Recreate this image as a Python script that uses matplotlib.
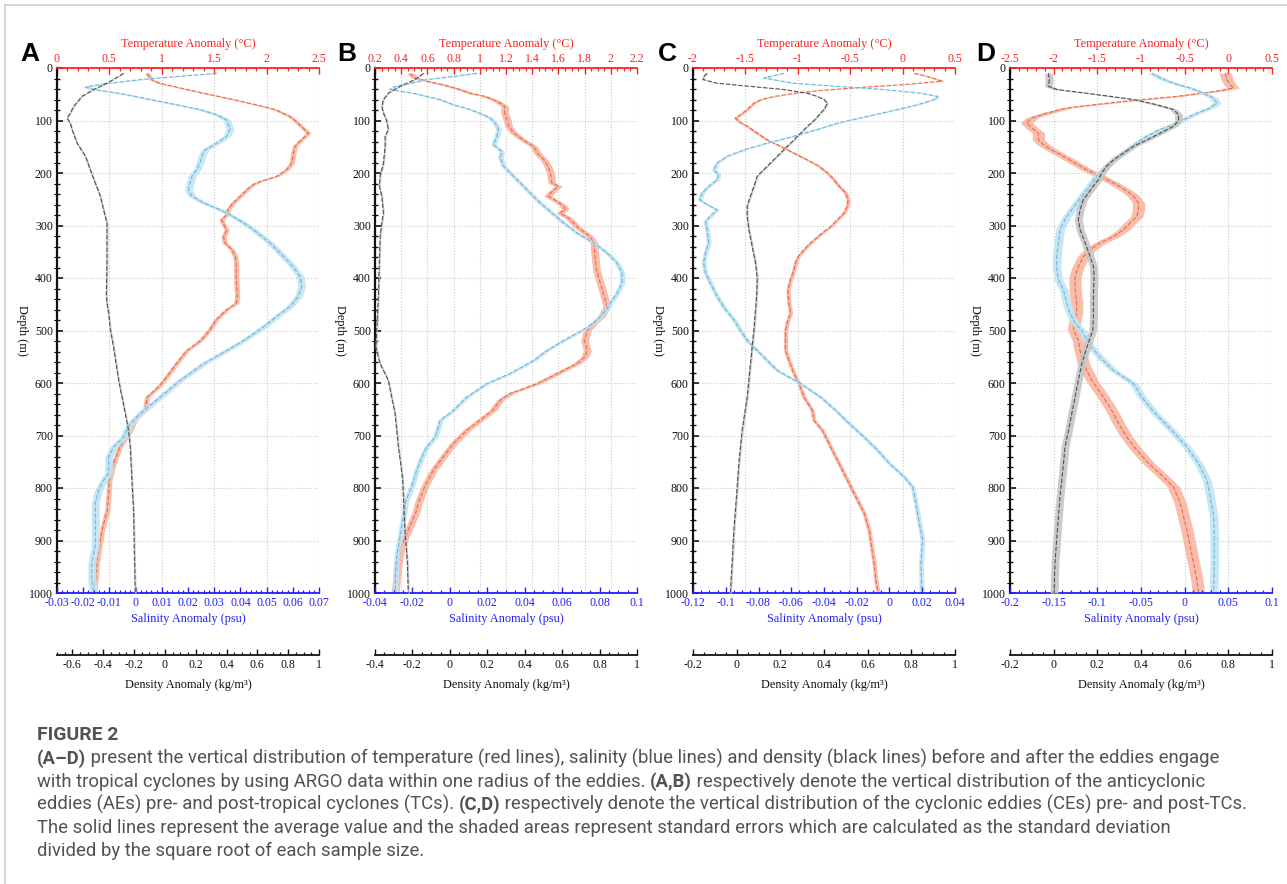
import matplotlib
matplotlib.use("Agg")
import matplotlib.pyplot as plt
from matplotlib.ticker import MultipleLocator, FuncFormatter
from matplotlib.lines import Line2D
import numpy as np

plt.rcParams["axes.unicode_minus"] = False
plt.rcParams["font.family"] = ["Liberation Serif", "DejaVu Serif"]

# ---------------------------------------------------------------- data
# (A) anticyclonic eddies, pre-TC
a_temp_depth = [10, 22, 29, 41, 48, 60, 70, 79, 92, 100, 111, 124, 137, 149, 168, 181, 194, 206, 216, 222,
                232, 244, 257, 270, 279, 289, 298, 308, 321, 333, 346, 359, 371, 403, 435, 448, 460, 479, 498,
                519, 538, 563, 595, 605, 627, 652, 668, 690, 722, 753, 785, 817, 842, 880, 918, 943, 975, 1000]
a_temp = [0.86, 0.90, 0.98, 1.24, 1.40, 1.68, 1.90, 2.08, 2.22, 2.27, 2.33, 2.40, 2.33, 2.27, 2.25, 2.24, 2.19,
          2.10, 1.94, 1.87, 1.81, 1.75, 1.68, 1.63, 1.62, 1.57, 1.59, 1.62, 1.59, 1.60, 1.67, 1.70, 1.71, 1.71,
          1.72, 1.71, 1.62, 1.52, 1.46, 1.37, 1.24, 1.14, 1.02, 0.98, 0.86, 0.84, 0.75, 0.70, 0.60, 0.54, 0.50,
          0.49, 0.48, 0.43, 0.40, 0.38, 0.37, 0.35]
a_sal_depth = [10, 16, 22, 30, 36, 41, 46, 51, 60, 70, 79, 89, 99, 117, 130, 143, 156, 168, 181, 194, 206, 219,
               232, 244, 257, 270, 283, 295, 308, 333, 359, 378, 397, 416, 435, 454, 473, 498, 519, 538, 563,
               595, 627, 658, 677, 703, 722, 741, 772, 785, 804, 829, 867, 911, 943, 975, 1000]
a_sal = [0.031, 0.016, 0.002, -0.012, -0.019, -0.016, -0.009, -0.003, 0.0056, 0.0157, 0.0246, 0.031, 0.0348,
         0.036, 0.0348, 0.031, 0.0265, 0.0253, 0.0246, 0.0234, 0.0215, 0.0208, 0.0202, 0.0215, 0.026, 0.0323,
         0.0373, 0.0412, 0.045, 0.0513, 0.0564, 0.060, 0.0628, 0.0634, 0.0621, 0.059, 0.0539, 0.0475, 0.0412,
         0.0348, 0.026, 0.017, 0.0094, 0.0018, -0.002, -0.0046, -0.0084, -0.0103, -0.0103, -0.0122, -0.0141,
         -0.0154, -0.0154, -0.0154, -0.0167, -0.0167, -0.016]
a_dens_depth = [10, 16, 29, 41, 54, 73, 86, 95, 105, 117, 143, 168, 194, 219, 244, 270, 295, 321, 371, 435,
                448, 467, 498, 532, 595, 658, 690, 722, 785, 848, 911, 1000]
a_dens = [-0.268, -0.30, -0.376, -0.462, -0.538, -0.592, -0.614, -0.635, -0.614, -0.603, -0.57, -0.516,
          -0.484, -0.452, -0.419, -0.398, -0.376, -0.376, -0.376, -0.38, -0.376, -0.365, -0.354, -0.333,
          -0.30, -0.257, -0.236, -0.225, -0.214, -0.203, -0.199, -0.192]

# (B) anticyclonic eddies, post-TC
b_temp_depth = [10, 19, 25, 32, 41, 48, 54, 63, 73, 86, 100, 111, 124, 137, 149, 162, 175, 187, 200, 219, 225,
                238, 244, 254, 263, 270, 276, 286, 302, 321, 333, 359, 384, 410, 435, 454, 473, 486, 500, 519,
                538, 551, 563, 582, 601, 620, 633, 652, 671, 690, 715, 741, 766, 797, 829, 848, 880, 911, 943,
                1000]
b_temp = [0.468, 0.506, 0.595, 0.722, 0.85, 0.926, 1.04, 1.13, 1.19, 1.19, 1.21, 1.22, 1.26, 1.33, 1.41, 1.44,
          1.49, 1.52, 1.54, 1.55, 1.60, 1.54, 1.52, 1.59, 1.64, 1.65, 1.61, 1.68, 1.74, 1.84, 1.87, 1.88, 1.89,
          1.92, 1.95, 1.97, 1.93, 1.87, 1.82, 1.80, 1.82, 1.80, 1.74, 1.59, 1.44, 1.23, 1.155, 1.10, 1.00,
          0.90, 0.80, 0.72, 0.646, 0.58, 0.53, 0.51, 0.455, 0.40, 0.378, 0.353]
b_sal_depth = [10, 16, 22, 29, 36, 41, 48, 54, 60, 70, 79, 89, 95, 105, 117, 130, 146, 159, 171, 187, 200, 219,
               238, 257, 276, 295, 314, 333, 352, 371, 390, 410, 429, 448, 467, 486, 500, 519, 538, 557, 582,
               601, 627, 652, 671, 684, 703, 722, 741, 766, 798, 823, 854, 892, 930, 962, 1000]
b_sal = [0.0144, 0.0019, -0.0124, -0.0213, -0.030, -0.032, -0.0195, -0.0124, -0.0052, 0.0019, 0.0108, 0.018,
         0.0215, 0.0242, 0.026, 0.0251, 0.0233, 0.0278, 0.0269, 0.0287, 0.0322, 0.0376, 0.0429, 0.0483, 0.0545,
         0.0608, 0.0679, 0.0768, 0.084, 0.0893, 0.092, 0.092, 0.0893, 0.0857, 0.0822, 0.0768, 0.0705, 0.0608,
         0.0519, 0.0447, 0.0322, 0.0197, 0.009, 0.0019, -0.0052, -0.0061, -0.0079, -0.0124, -0.015, -0.0177,
         -0.0204, -0.0234, -0.0248, -0.0266, -0.0284, -0.029, -0.0293]
b_dens_depth = [10, 22, 35, 48, 60, 73, 86, 100, 117, 130, 149, 181, 206, 225, 244, 276, 295, 321, 371, 435,
                500, 532, 563, 595, 627, 658, 690, 722, 753, 785, 817, 880, 943, 1000]
b_dens = [-0.141, -0.186, -0.266, -0.329, -0.355, -0.364, -0.355, -0.338, -0.329, -0.346, -0.346, -0.355,
          -0.373, -0.377, -0.364, -0.355, -0.364, -0.373, -0.377, -0.382, -0.391, -0.395, -0.373, -0.329,
          -0.311, -0.293, -0.284, -0.275, -0.263, -0.252, -0.248, -0.24, -0.227, -0.222]

# (C) cyclonic eddies, pre-TC
c_temp_depth = [10, 16, 25, 31, 37, 43, 48, 54, 60, 67, 79, 89, 95, 102, 111, 124, 137, 149, 162, 175, 187,
                200, 213, 225, 238, 251, 263, 276, 289, 302, 314, 333, 346, 359, 371, 384, 403, 422, 448, 467,
                479, 500, 538, 557, 582, 601, 627, 652, 671, 690, 722, 753, 785, 817, 848, 880, 911, 943, 975,
                1000]
c_temp = [0.111, 0.238, 0.38, 0.05, -0.40, -0.80, -1.02, -1.22, -1.35, -1.42, -1.483, -1.547, -1.595, -1.563,
          -1.483, -1.388, -1.292, -1.165, -1.037, -0.909, -0.798, -0.718, -0.654, -0.607, -0.543, -0.52, -0.527,
          -0.559, -0.622, -0.686, -0.766, -0.878, -0.941, -0.996, -1.021, -1.037, -1.069, -1.094, -1.085,
          -1.069, -1.094, -1.117, -1.117, -1.085, -1.037, -0.989, -0.941, -0.862, -0.846, -0.766, -0.686,
          -0.607, -0.527, -0.447, -0.367, -0.32, -0.297, -0.272, -0.256, -0.233]
c_sal_depth = [10, 19, 29, 35, 41, 48, 54, 60, 70, 79, 92, 105, 117, 130, 143, 156, 168, 181, 194, 203, 213,
               225, 238, 251, 260, 270, 279, 292, 308, 333, 352, 371, 390, 410, 435, 460, 479, 500, 519, 538,
               557, 576, 601, 627, 652, 677, 703, 728, 753, 779, 798, 829, 867, 899, 943, 1000]
c_sal = [-0.0645, -0.0767, -0.0584, -0.0318, -0.0033, 0.0192, 0.0294, 0.0273, 0.0171, 0.0049, -0.0135,
         -0.0318, -0.0441, -0.0584, -0.0747, -0.089, -0.0992, -0.1053, -0.1073, -0.1043, -0.1053, -0.1104,
         -0.1145, -0.1159, -0.1114, -0.1053, -0.1084, -0.1124, -0.1114, -0.1104, -0.1124, -0.1135, -0.1124,
         -0.1094, -0.1053, -0.1002, -0.0951, -0.091, -0.0869, -0.0808, -0.0747, -0.0686, -0.0543, -0.042,
         -0.0329, -0.0247, -0.0155, -0.0073, -0.0002, 0.009, 0.0141, 0.0161, 0.0182, 0.0202, 0.0192, 0.0196]
c_dens_depth = [10, 16, 22, 29, 35, 41, 48, 54, 60, 67, 79, 89, 100, 111, 124, 137, 149, 168, 187, 206, 225,
                244, 263, 283, 308, 340, 371, 400, 435, 498, 563, 627, 690, 753, 817, 880, 943, 1000]
c_dens = [-0.136, -0.151, -0.154, -0.09, 0.063, 0.216, 0.324, 0.369, 0.40, 0.415, 0.40, 0.377, 0.354, 0.324,
          0.293, 0.262, 0.232, 0.186, 0.14, 0.094, 0.079, 0.063, 0.048, 0.048, 0.056, 0.071, 0.086, 0.094,
          0.091, 0.079, 0.063, 0.048, 0.025, 0.01, -0.001, -0.013, -0.021, -0.029]

# (D) cyclonic eddies, post-TC
d_temp_depth = [10, 22, 32, 38, 44, 54, 63, 70, 76, 86, 95, 105, 114, 124, 137, 146, 156, 168, 181, 194, 206,
                219, 232, 244, 257, 270, 283, 295, 308, 321, 333, 346, 359, 378, 397, 422, 448, 467, 479, 498,
                519, 538, 563, 595, 627, 652, 677, 703, 728, 753, 779, 798, 829, 854, 880, 911, 943, 975, 1000]
d_temp = [-0.035, -0.016, 0.022, 0.06, -0.131, -0.589, -1.163, -1.545, -1.85, -2.08, -2.252, -2.309, -2.252,
          -2.175, -2.175, -2.118, -2.022, -1.889, -1.755, -1.621, -1.468, -1.315, -1.182, -1.086, -1.029,
          -1.029, -1.048, -1.124, -1.201, -1.315, -1.468, -1.583, -1.659, -1.717, -1.755, -1.755, -1.736,
          -1.736, -1.755, -1.774, -1.717, -1.698, -1.659, -1.564, -1.43, -1.335, -1.258, -1.163, -1.048,
          -0.914, -0.742, -0.628, -0.551, -0.513, -0.475, -0.437, -0.398, -0.36, -0.341]
d_sal_depth = [10, 19, 29, 38, 48, 57, 67, 76, 86, 95, 105, 117, 130, 143, 156, 168, 181, 194, 206, 219, 232,
               244, 257, 270, 283, 295, 308, 333, 359, 384, 403, 422, 448, 467, 486, 500, 525, 551, 576, 601,
               627, 658, 690, 722, 753, 785, 817, 854, 892, 943, 1000]
d_sal = [-0.0376, -0.028, -0.0128, 0.0063, 0.0216, 0.0331, 0.0369, 0.0293, 0.014, 0.0025, -0.0089, -0.028,
         -0.0433, -0.0548, -0.0663, -0.0758, -0.0854, -0.093, -0.1007, -0.1064, -0.1121, -0.1178, -0.1236,
         -0.1293, -0.135, -0.1389, -0.1427, -0.1446, -0.1465, -0.1465, -0.1446, -0.1389, -0.135, -0.1312,
         -0.1255, -0.1178, -0.1102, -0.0968, -0.0815, -0.0586, -0.0491, -0.0338, -0.0147, 0.0025, 0.0159,
         0.0254, 0.0293, 0.0331, 0.0339, 0.0339, 0.0331]
d_dens_depth = [10, 22, 35, 41, 48, 54, 60, 70, 79, 89, 100, 111, 124, 137, 149, 162, 175, 187, 200, 213, 225,
                238, 251, 270, 289, 308, 333, 359, 378, 397, 435, 473, 500, 532, 563, 595, 627, 658, 690, 722,
                753, 817, 880, 943, 1000]
d_dens = [-0.024, -0.02, -0.024, 0.014, 0.152, 0.259, 0.366, 0.473, 0.549, 0.572, 0.572, 0.549, 0.488, 0.427,
          0.366, 0.32, 0.274, 0.243, 0.22, 0.205, 0.182, 0.159, 0.136, 0.121, 0.113, 0.121, 0.144, 0.167,
          0.182, 0.185, 0.182, 0.182, 0.179, 0.152, 0.129, 0.113, 0.098, 0.083, 0.068, 0.052, 0.045, 0.029,
          0.017, 0.006, 0.002]

# standard errors (half-width of the shaded bands)
temp_err = [0.025, 0.03, 0.02, 0.07]
sal_err = [0.0015, 0.0015, 0.0015, 0.005]
dens_err = [0.006, 0.005, 0.005, 0.018]

panel_letters = ["A", "B", "C", "D"]
temp_range = [(0, 2.5), (0.2, 2.2), (-2, 0.5), (-2.5, 0.5)]
sal_range = [(-0.03, 0.07), (-0.04, 0.1), (-0.12, 0.04), (-0.2, 0.1)]
dens_range = [(-0.7, 1), (-0.4, 1), (-0.2, 1), (-0.2, 1)]
temp_step = [(0.5, 0.1), (0.2, 0.05), (0.5, 0.1), (0.5, 0.1)]
sal_step = [(0.01, 0.002), (0.02, 0.005), (0.02, 0.005), (0.05, 0.01)]
dens_step = [(0.2, 0.05)] * 4

caption_title = "FIGURE 2"
caption_lines = [
    [("(A\u2013D)", True), (" present the vertical distribution of temperature (red lines), salinity (blue lines) "
                            "and density (black lines) before and after the eddies engage", False)],
    [("with tropical cyclones by using ARGO data within one radius of the eddies. ", False), ("(A,B)", True),
     (" respectively denote the vertical distribution of the anticyclonic", False)],
    [("eddies (AEs) pre- and post-tropical cyclones (TCs). ", False), ("(C,D)", True),
     (" respectively denote the vertical distribution of the cyclonic eddies (CEs) pre- and post-TCs.", False)],
    [("The solid lines represent the average value and the shaded areas represent standard errors which are "
      "calculated as the standard deviation", False)],
    [("divided by the square root of each sample size.", False)],
]

# ---------------------------------------------------------------- style
W, H, DPI = 1287, 884, 100
PX = 72.0 / DPI
fig = plt.figure(figsize=(W / DPI, H / DPI), dpi=DPI, facecolor="white")

TEMP_LINE, TEMP_FILL = "#ec6a47", "#f8b7a2"
SAL_LINE, SAL_FILL = "#6db8db", "#c2e4f3"
DENS_LINE, DENS_FILL = "#505050", "#c6c6c6"
RED, BLUE, INK = "#ff2020", "#2020ff", "#111111"
GRID = "#c9c9c9"
TICK_FS, LABEL_FS = 8.6, 8.8
CAP_FONT = ["Roboto", "DejaVu Sans"]
CAP_COLOR = "#525252"

TOP, BOT = 68, 593
PANEL_LEFT = [57, 375, 693, 1010]
PANEL_W = 262
LETTER_X = [20, 337, 658, 976]


def fy(y):
    return 1 - y / H


def fx(x):
    return x / W


def num_fmt(v, _):
    v = round(v, 6)
    if abs(v) < 1e-9:
        return "0"
    return f"{v:g}"


def draw_band(ax, depth, val, err, line, fill):
    depth = np.asarray(depth, float)
    val = np.asarray(val, float)
    ax.fill_betweenx(depth, val - err, val + err, color=fill, lw=0, alpha=0.9)
    ax.plot(val, depth, color=line, lw=0.8, ls=(0, (4, 1.6)))


def style_x(axis_obj, major, minor):
    axis_obj.set_major_locator(MultipleLocator(major))
    axis_obj.set_minor_locator(MultipleLocator(minor))
    axis_obj.set_major_formatter(FuncFormatter(num_fmt))


for i in range(4):
    left = PANEL_LEFT[i]
    rect = [fx(left), fy(BOT), PANEL_W / W, (BOT - TOP) / H]
    ax_t = fig.add_axes(rect)                 # temperature (top), lowest layer
    ax_s = fig.add_axes(rect, sharey=ax_t)    # salinity (bottom)
    ax_d = fig.add_axes(rect, sharey=ax_t)    # density (detached bottom axis)
    for a, z in ((ax_t, 1), (ax_s, 2), (ax_d, 3)):
        a.set_zorder(z)
        a.patch.set_visible(False)
        for sp in a.spines.values():
            sp.set_visible(False)

    ax_t.set_ylim(1000, 0)

    # temperature axis on top
    ax_t.set_xlim(*temp_range[i])
    ax_t.xaxis.tick_top()
    style_x(ax_t.xaxis, *temp_step[i])
    ax_t.spines["top"].set_visible(True)
    ax_t.spines["top"].set_color(RED)
    ax_t.spines["top"].set_linewidth(1.3)
    ax_t.tick_params(axis="x", which="both", direction="in", colors=RED, labelsize=TICK_FS, pad=2.5)
    ax_t.tick_params(axis="x", which="major", length=4, width=1.0)
    ax_t.tick_params(axis="x", which="minor", length=2.5, width=0.9)
    ax_t.grid(axis="x", which="major", color=GRID, ls=":", lw=0.8)

    # depth axis on the left
    ax_t.spines["left"].set_visible(True)
    ax_t.spines["left"].set_color(INK)
    ax_t.spines["left"].set_linewidth(1.6)
    ax_t.yaxis.set_major_locator(MultipleLocator(100))
    ax_t.yaxis.set_minor_locator(MultipleLocator(20))
    ax_t.tick_params(axis="y", which="both", direction="in", colors=INK, labelsize=TICK_FS, pad=3)
    ax_t.tick_params(axis="y", which="major", length=4.5, width=1.2)
    ax_t.tick_params(axis="y", which="minor", length=2.5, width=1.0)
    for d in ax_t.get_yticks():
        if 0 < d <= 1000:
            ax_t.axhline(d, color=GRID, ls=":", lw=0.8, zorder=0.5)
    ax_t.axvline(temp_range[i][1], color=GRID, ls=":", lw=0.8)

    # salinity axis at the bottom
    ax_s.set_xlim(*sal_range[i])
    ax_s.xaxis.tick_bottom()
    style_x(ax_s.xaxis, *sal_step[i])
    ax_s.spines["bottom"].set_visible(True)
    ax_s.spines["bottom"].set_color(BLUE)
    ax_s.spines["bottom"].set_linewidth(1.3)
    ax_s.tick_params(axis="x", which="both", direction="in", colors=BLUE, labelsize=TICK_FS, pad=3)
    ax_s.tick_params(axis="x", which="major", length=4, width=1.0)
    ax_s.tick_params(axis="x", which="minor", length=2.5, width=0.9)
    ax_s.tick_params(axis="y", left=False, labelleft=False)

    # density axis below
    ax_d.set_xlim(*dens_range[i])
    ax_d.xaxis.tick_bottom()
    style_x(ax_d.xaxis, *dens_step[i])
    ax_d.spines["bottom"].set_visible(True)
    ax_d.spines["bottom"].set_position(("outward", 62 * PX))
    ax_d.spines["bottom"].set_color(INK)
    ax_d.spines["bottom"].set_linewidth(1.3)
    ax_d.tick_params(axis="x", which="both", direction="in", colors=INK, labelsize=TICK_FS, pad=3)
    ax_d.tick_params(axis="x", which="major", length=4, width=1.0)
    ax_d.tick_params(axis="x", which="minor", length=2.5, width=0.9)
    ax_d.tick_params(axis="y", left=False, labelleft=False)

    # curves
    temps = [a_temp, b_temp, c_temp, d_temp][i]
    temp_d = [a_temp_depth, b_temp_depth, c_temp_depth, d_temp_depth][i]
    sals = [a_sal, b_sal, c_sal, d_sal][i]
    sal_d = [a_sal_depth, b_sal_depth, c_sal_depth, d_sal_depth][i]
    dens = [a_dens, b_dens, c_dens, d_dens][i]
    dens_d = [a_dens_depth, b_dens_depth, c_dens_depth, d_dens_depth][i]
    draw_band(ax_t, temp_d, temps, temp_err[i], TEMP_LINE, TEMP_FILL)
    draw_band(ax_s, sal_d, sals, sal_err[i], SAL_LINE, SAL_FILL)
    draw_band(ax_d, dens_d, dens, dens_err[i], DENS_LINE, DENS_FILL)
    ax_t.set_ylim(1000, 0)

    # axis titles
    cx = fx(left + PANEL_W / 2)
    fig.text(cx, fy(44.5), "Temperature Anomaly (\u00b0C)", color=RED, fontsize=LABEL_FS,
             ha="center", va="center")
    fig.text(cx, fy(619), "Salinity Anomaly (psu)", color=BLUE, fontsize=LABEL_FS,
             ha="center", va="center")
    fig.text(cx, fy(685), "Density Anomaly (kg/m\u00b3)", color=INK, fontsize=LABEL_FS,
             ha="center", va="center")
    fig.text(fx(left - 35), fy((TOP + BOT) / 2), "Depth (m)", color=INK, fontsize=LABEL_FS,
             rotation=270, ha="center", va="center")
    fig.text(fx(LETTER_X[i]), fy(61), panel_letters[i], family=["Liberation Sans", "DejaVu Sans"],
             weight="bold", fontsize=19, color="black", ha="left", va="baseline")

# page frame
fig.add_artist(Line2D([fx(4.5), 1.0], [fy(5), fy(5)], color="#cfcfcf", lw=1.2))
fig.add_artist(Line2D([fx(4.5), fx(4.5)], [fy(5), 0.0], color="#cfcfcf", lw=1.2))

# caption
renderer = fig.canvas.get_renderer()


def line_width(segs, size):
    total = 0.0
    for txt, bold in segs:
        t = fig.text(0, 0, txt, fontsize=size, family=CAP_FONT, weight="bold" if bold else "normal")
        total += t.get_window_extent(renderer=renderer).width
        t.remove()
    return total


# the tightest line sets the common font size
line_targets = [1180.0, 1219.0, 1219.0, 1175.0, 520.0]
cap_size = min(12.0 * tw / line_width(segs, 12.0) for segs, tw in zip(caption_lines, line_targets))
title_size = 13.0 * 81.0 / line_width([(caption_title, True)], 13.0)

fig.text(fx(37), fy(740), caption_title, fontsize=title_size, family=CAP_FONT, weight="bold",
         color=CAP_COLOR, ha="left", va="baseline")
baselines = [764, 787, 810, 833, 856]
for segs, yb in zip(caption_lines, baselines):
    x = 37.0
    for txt, bold in segs:
        t = fig.text(fx(x), fy(yb), txt, fontsize=cap_size, family=CAP_FONT,
                     weight="bold" if bold else "normal", color=CAP_COLOR, ha="left", va="baseline")
        x += t.get_window_extent(renderer=renderer).width

fig.savefig("out.png", dpi=DPI, facecolor="white")
